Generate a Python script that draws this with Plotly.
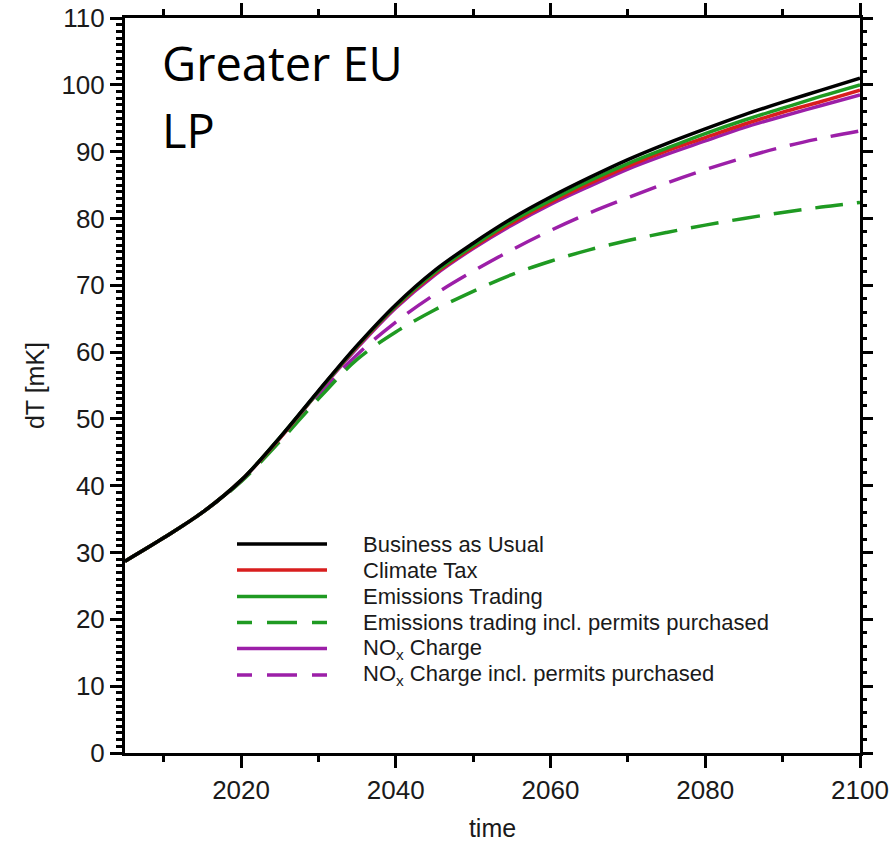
import plotly.graph_objects as go

# ---- data -------------------------------------------------------------
years = [2005, 2010, 2015, 2020, 2025, 2030, 2035, 2040, 2045, 2050,
         2055, 2060, 2065, 2070, 2075, 2080, 2085, 2090, 2095, 2100]

business_as_usual = [28.7, 32.2, 36.0, 40.8, 47.2, 54.2, 61.0, 67.1, 72.2, 76.3,
                     80.0, 83.2, 86.1, 88.8, 91.2, 93.4, 95.5, 97.4, 99.2, 101.0]
climate_tax = [28.7, 32.2, 36.0, 40.8, 47.1, 54.1, 60.8, 66.8, 71.7, 75.7,
               79.3, 82.4, 85.2, 87.8, 90.1, 92.1, 94.1, 95.9, 97.5, 99.2]
emissions_trading = [28.7, 32.2, 36.0, 40.8, 47.2, 54.1, 60.9, 66.9, 71.9, 75.9,
                     79.6, 82.7, 85.6, 88.2, 90.5, 92.7, 94.7, 96.5, 98.3, 100.0]
emissions_trading_permits = [28.7, 32.2, 36.0, 40.6, 46.6, 53.0, 58.9, 63.0, 66.3, 69.1,
                             71.6, 73.6, 75.3, 76.7, 77.9, 79.0, 80.0, 80.9, 81.7, 82.4]
nox_charge = [28.7, 32.2, 36.0, 40.8, 47.1, 54.0, 60.6, 66.6, 71.5, 75.5,
              79.0, 82.1, 84.8, 87.4, 89.6, 91.6, 93.6, 95.3, 96.9, 98.5]
nox_charge_permits = [28.7, 32.2, 36.0, 40.7, 46.9, 53.6, 59.6, 64.5, 68.6, 72.1,
                      75.3, 78.2, 80.8, 83.1, 85.3, 87.3, 89.1, 90.7, 92.0, 93.1]

series_names = ["Business as Usual", "Climate Tax", "Emissions Trading",
                "Emissions trading incl. permits purchased",
                "NO<sub>x</sub> Charge", "NO<sub>x</sub> Charge incl. permits purchased"]
series_values = [business_as_usual, climate_tax, emissions_trading,
                 emissions_trading_permits, nox_charge, nox_charge_permits]

x_ticks = [2020, 2040, 2060, 2080, 2100]
y_ticks = list(range(0, 111, 10))

# ---- styling ----------------------------------------------------------
BLACK = "#000000"
RED = "#d81e1e"
GREEN = "#1f9a22"
PURPLE = "#9c1fa8"
series_colors = [BLACK, RED, GREEN, GREEN, PURPLE, PURPLE]
series_dashed = [False, False, False, True, False, True]
LW = 3.5
TXT = "Liberation Sans, Arial, Helvetica, sans-serif"

# figure geometry (pixels)
W, H = 894, 842
L, R, T, B = 125, 34, 18, 89
PW, PH = W - L - R, H - T - B


def px_x(px):
    return (px - L) / PW


def px_y(py):
    return (H - B - py) / PH


fig = go.Figure()

# dashed lines first, solid lines over them; business-as-usual sits on the
# right-hand axis layer so it is drawn on top of everything
for i in [5, 3, 4, 1, 2, 0]:
    fig.add_trace(go.Scatter(
        x=years, y=series_values[i], mode="lines", name=series_names[i],
        yaxis="y2" if i == 0 else "y",
        line=dict(color=series_colors[i], width=LW,
                  dash="28px,14px" if series_dashed[i] else "solid",
                  shape="spline", smoothing=1.0),
        showlegend=False, hoverinfo="skip"))

# ---- in-plot key ------------------------------------------------------
key_rows_py = [544, 570, 596.5, 622.5, 648.5, 675]
shapes = []
annotations = []
for name, color, dashed, py in zip(series_names, series_colors, series_dashed, key_rows_py):
    shapes.append(dict(
        type="line", xref="paper", yref="paper",
        x0=px_x(237), x1=px_x(327), y0=px_y(py), y1=px_y(py),
        line=dict(color=color, width=LW,
                  dash="15px,15px,30px,15px,15px" if dashed else "solid")))
    annotations.append(dict(
        xref="paper", yref="paper", x=px_x(361), y=px_y(py),
        xanchor="left", yanchor="middle", text=name, showarrow=False,
        font=dict(family=TXT, size=22, color="#1a1a1a")))

# region / scenario heading
TITLE_FONT = dict(family="Open Sans, Noto Sans, sans-serif", size=47, color="#000000")
annotations.append(dict(xref="paper", yref="paper", x=px_x(160), y=px_y(63),
                        xanchor="left", yanchor="middle", text="Greater EU",
                        showarrow=False, font=TITLE_FONT))
annotations.append(dict(xref="paper", yref="paper", x=px_x(160), y=px_y(130),
                        xanchor="left", yanchor="middle", text="LP",
                        showarrow=False, font=TITLE_FONT))

axis_common = dict(
    showgrid=False, zeroline=False, showline=True, linecolor="black", linewidth=3,
    ticks="outside", ticklen=12, tickwidth=3, tickcolor="black", automargin=False,
    tickfont=dict(family=TXT, size=26, color="#1a1a1a"),
)

fig.update_layout(
    width=W, height=H,
    margin=dict(l=L, r=R, t=T, b=B),
    paper_bgcolor="white", plot_bgcolor="white",
    showlegend=False,
    shapes=shapes,
    annotations=annotations,
    xaxis=dict(
        **axis_common,
        range=[2005, 2100], tickvals=x_ticks, mirror="ticks",
        minor=dict(dtick=10, tick0=2000, ticks="outside", ticklen=6, tickwidth=2.5,
                   tickcolor="black"),
        title=dict(text="time", font=dict(family=TXT, size=25, color="#1a1a1a"),
                   standoff=16),
    ),
    yaxis=dict(
        **axis_common,
        range=[0, 110], tickvals=y_ticks, mirror=True,
        minor=dict(dtick=1, ticks="outside", ticklen=6, tickwidth=2.5, tickcolor="black"),
        title=dict(text="dT [mK]", font=dict(family=TXT, size=25, color="#1a1a1a"),
                   standoff=10),
    ),
    yaxis2=dict(
        overlaying="y", side="right", range=[0, 110], tickvals=y_ticks,
        showgrid=False, zeroline=False, showline=False, showticklabels=False,
        automargin=False,
        ticks="outside", ticklen=12, tickwidth=3, tickcolor="black",
        minor=dict(dtick=2, ticks="outside", ticklen=6, tickwidth=2.5, tickcolor="black"),
    ),
)

fig.write_html("out.html")
